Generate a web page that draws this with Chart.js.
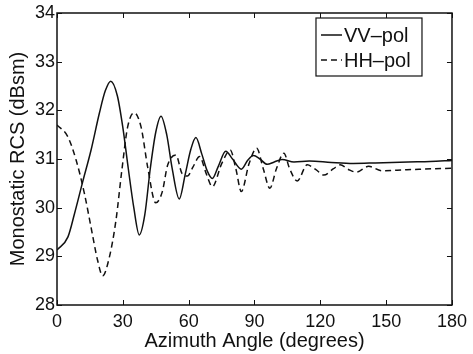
<!DOCTYPE html>
<html>
<head>
<meta charset="utf-8">
<script src="https://cdn.jsdelivr.net/npm/chart.js@4/dist/chart.umd.min.js"></script>
<style>
  body { margin: 0; background: #fff; }
  #wrap { width: 473px; height: 354px; }
</style>
</head>
<body>
<div id="wrap"><canvas id="rcsChart" width="473" height="354"></canvas></div>
<script>
// values (degrees, dBsm)
const vvAngles = [0, 5, 8, 11.7, 15.5, 19.3, 22, 24.5, 27.5, 30, 32.5, 35, 37.5, 40, 42.5, 45, 47.4, 50, 52.5, 55.7,
  58.5, 61, 63.3, 66, 68.5, 70.8, 73.5, 76.9, 80, 84, 87, 89.5, 92.5, 95.8, 99, 102.6, 108, 115, 125, 135, 145, 160, 170, 180];
const vvValues = [29.13, 29.4, 29.88, 30.53, 31.18, 31.94, 32.4, 32.6, 32.3, 31.65, 30.8, 30.0, 29.44, 29.85, 30.8, 31.55, 31.88, 31.5, 30.8, 30.18,
  30.7, 31.2, 31.44, 31.1, 30.75, 30.6, 30.85, 31.16, 31.0, 30.79, 30.98, 31.07, 31.0, 30.89, 30.94, 30.99, 30.94, 30.96, 30.93, 30.91, 30.92, 30.94, 30.95, 30.97];

const hhAngles = [0, 4.9, 8.7, 12.5, 15.5, 18.5, 20.8, 23.9, 26.9, 29.5, 32.2, 35.2, 38.3, 41.3, 45, 48, 50.4, 54.2, 57, 59.5,
  62, 65, 68, 70.8, 75, 79, 81.5, 84, 87.5, 91, 94, 97, 100, 103.4, 106, 109.5, 114, 118, 121.6, 126, 129, 133, 136.5, 142, 148, 155, 165, 180];
const hhValues = [31.7, 31.46, 30.98, 30.29, 29.6, 28.92, 28.6, 28.99, 29.75, 30.75, 31.66, 31.95, 31.66, 30.84, 30.1, 30.33, 30.87, 31.08, 30.7, 30.65,
  30.84, 31.05, 30.7, 30.43, 30.9, 31.18, 30.8, 30.33, 30.9, 31.22, 30.8, 30.4, 30.8, 31.12, 30.8, 30.55, 30.88, 30.78, 30.67, 30.8, 30.88, 30.78, 30.73, 30.85, 30.76, 30.77, 30.79, 30.81];

const xTicks = [0, 30, 60, 90, 120, 150, 180];
const yTicks = [28, 29, 30, 31, 32, 33, 34];

const FONT = "'Liberation Sans', Arial, Helvetica, sans-serif";
const INK = '#111';

function pts(xs, ys) {
  return xs.map((x, i) => ({ x: x, y: ys[i] }));
}

// matlab style box, inward ticks and legend
const boxPlugin = {
  id: 'boxPlugin',
  afterDraw(chart) {
    const ctx = chart.ctx;
    const a = chart.chartArea;
    const xs = chart.scales.x, ys = chart.scales.y;
    ctx.save();
    ctx.strokeStyle = INK;
    ctx.lineWidth = 1.5;
    ctx.strokeRect(a.left, a.top, a.right - a.left, a.bottom - a.top);
    ctx.lineWidth = 1;
    ctx.beginPath();
    xTicks.forEach(v => {
      const px = Math.round(xs.getPixelForValue(v)) + 0.5;
      ctx.moveTo(px, a.bottom); ctx.lineTo(px, a.bottom - 5);
      ctx.moveTo(px, a.top); ctx.lineTo(px, a.top + 5);
    });
    yTicks.forEach(v => {
      const py = Math.round(ys.getPixelForValue(v)) + 0.5;
      ctx.moveTo(a.left, py); ctx.lineTo(a.left + 5, py);
      ctx.moveTo(a.right, py); ctx.lineTo(a.right - 5, py);
    });
    ctx.stroke();

    // legend
    const bx = a.right - 136, by = a.top + 5, bw = 106, bh = 58;
    ctx.fillStyle = '#fff';
    ctx.fillRect(bx, by, bw, bh);
    ctx.lineWidth = 1.2;
    ctx.strokeRect(bx, by, bw, bh);
    ctx.font = '20px ' + FONT;
    ctx.textBaseline = 'middle';
    chart.data.datasets.forEach((ds, i) => {
      const ly = by + 17 + i * 25;
      ctx.strokeStyle = ds.borderColor;
      ctx.lineWidth = ds.borderWidth;
      ctx.setLineDash(ds.borderDash || []);
      ctx.beginPath();
      ctx.moveTo(bx + 5, ly); ctx.lineTo(bx + 26, ly);
      ctx.stroke();
      ctx.setLineDash([]);
      ctx.fillStyle = INK;
      ctx.fillText(ds.label, bx + 28, ly + 1);
    });
    ctx.restore();
  }
};

new Chart(document.getElementById('rcsChart').getContext('2d'), {
  type: 'line',
  data: {
    datasets: [{
      label: 'VV\u2013pol',
      data: pts(vvAngles, vvValues),
      borderColor: INK,
      borderWidth: 1.5,
      pointRadius: 0,
      fill: false,
      cubicInterpolationMode: 'monotone'
    }, {
      label: 'HH\u2013pol',
      data: pts(hhAngles, hhValues),
      borderColor: INK,
      borderWidth: 1.5,
      borderDash: [6, 4],
      pointRadius: 0,
      fill: false,
      cubicInterpolationMode: 'monotone'
    }]
  },
  options: {
    responsive: false,
    animation: false,
    layout: { padding: { top: 13, right: 20, left: 0, bottom: 0 } },
    plugins: {
      legend: { display: false },
      tooltip: { enabled: false }
    },
    scales: {
      x: {
        type: 'linear',
        min: 0,
        max: 180,
        afterBuildTicks: s => { s.ticks = xTicks.map(v => ({ value: v })); },
        afterFit: s => { s.height = 49; },
        grid: { display: false, drawTicks: false },
        border: { display: false },
        ticks: { color: INK, padding: 6, maxRotation: 0, font: { family: FONT, size: 18 } },
        title: {
          display: true,
          text: 'Azimuth Angle (degrees)',
          color: INK,
          padding: { top: 0, bottom: 1 },
          font: { family: FONT, size: 20 }
        }
      },
      y: {
        min: 28,
        max: 34,
        afterBuildTicks: s => { s.ticks = yTicks.map(v => ({ value: v })); },
        afterFit: s => { s.width = 57; },
        grid: { display: false, drawTicks: false },
        border: { display: false },
        ticks: { color: INK, padding: 2, font: { family: FONT, size: 18 } },
        title: {
          display: true,
          text: 'Monostatic RCS (dBsm)',
          color: INK,
          padding: { top: 6, bottom: 0 },
          font: { family: FONT, size: 20 }
        }
      }
    }
  },
  plugins: [boxPlugin]
});
</script>
</body>
</html>
